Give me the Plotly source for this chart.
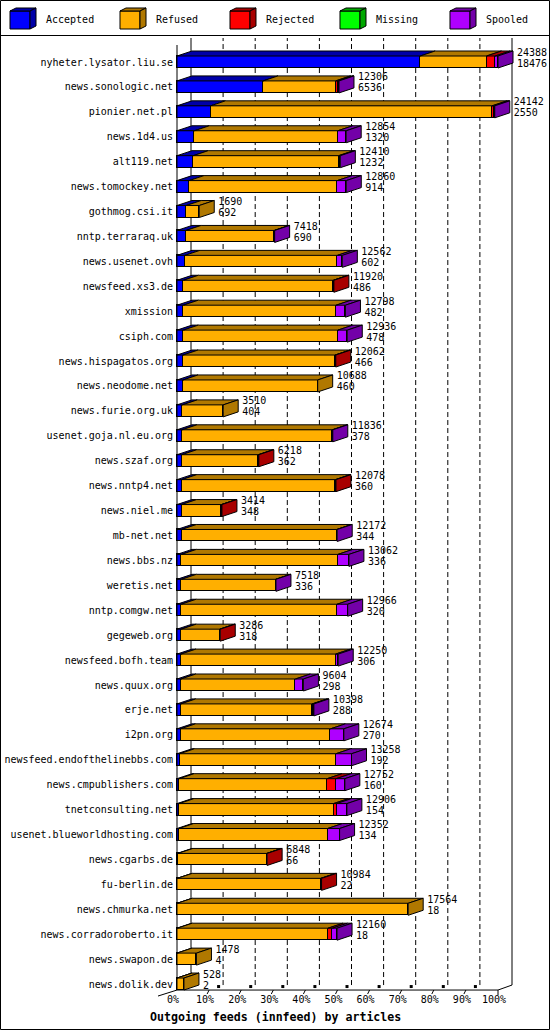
import plotly.graph_objects as go

# ---------------- data ----------------
hosts = [
    "nyheter.lysator.liu.se", "news.sonologic.net", "pionier.net.pl", "news.1d4.us",
    "alt119.net", "news.tomockey.net", "gothmog.csi.it", "nntp.terraraq.uk",
    "news.usenet.ovh", "newsfeed.xs3.de", "xmission", "csiph.com",
    "news.hispagatos.org", "news.neodome.net", "news.furie.org.uk", "usenet.goja.nl.eu.org",
    "news.szaf.org", "news.nntp4.net", "news.niel.me", "mb-net.net",
    "news.bbs.nz", "weretis.net", "nntp.comgw.net", "gegeweb.org",
    "newsfeed.bofh.team", "news.quux.org", "erje.net", "i2pn.org",
    "newsfeed.endofthelinebbs.com", "news.cmpublishers.com", "tnetconsulting.net",
    "usenet.blueworldhosting.com", "news.cgarbs.de", "fu-berlin.de", "news.chmurka.net",
    "news.corradoroberto.it", "news.swapon.de", "news.dolik.dev",
]
totals = [24388, 12306, 24142, 12854, 12410, 12860, 1690, 7418, 12562, 11920,
          12798, 12936, 12062, 10688, 3510, 11836, 6218, 12078, 3414, 12172,
          13062, 7518, 12966, 3286, 12250, 9604, 10398, 12674, 13258, 12752,
          12906, 12352, 6848, 10984, 17564, 12160, 1478, 528]
accepted = [18476, 6536, 2550, 1320, 1232, 914, 692, 690, 602, 486,
            482, 478, 466, 460, 404, 378, 362, 360, 348, 344,
            336, 336, 320, 318, 306, 298, 288, 270, 192, 160,
            154, 134, 66, 22, 18, 18, 4, 2]
refused = [5040, 5520, 21389, 10900, 11050, 11262, 998, 6698, 11580, 11384,
           11606, 11748, 11546, 10228, 3106, 11418, 5806, 11678, 3026, 11798,
           11890, 7152, 11840, 2928, 11744, 8698, 9980, 11391, 11876, 11248,
           11739, 11306, 6742, 10892, 17546, 11457, 1474, 526]
rejected = [660, 200, 120, 0, 0, 0, 0, 0, 0, 50,
            0, 0, 50, 0, 0, 0, 50, 40, 40, 0,
            0, 0, 0, 40, 0, 0, 90, 0, 0, 684,
            228, 0, 40, 70, 0, 330, 0, 0]
missing = [0, 0, 0, 0, 0, 0, 0, 0, 0, 0,
           0, 0, 0, 0, 0, 0, 0, 0, 0, 0,
           0, 0, 0, 0, 0, 0, 0, 0, 0, 0,
           0, 0, 0, 0, 0, 0, 0, 0]
spooled = [212, 50, 83, 634, 128, 684, 0, 30, 380, 0,
           710, 710, 0, 0, 0, 40, 0, 0, 0, 30,
           836, 30, 806, 0, 200, 608, 40, 1013, 1190, 660,
           785, 912, 0, 0, 0, 355, 0, 0]
series_names = ["Accepted", "Refused", "Rejected", "Missing", "Spooled"]
pct_ticks = [0, 10, 20, 30, 40, 50, 60, 70, 80, 90, 100]
pct_labels = ["0%", "10%", "20%", "30%", "40%", "50%", "60%", "70%", "80%", "90%", "100%"]
x_title = "Outgoing feeds (innfeed) by articles"

# ---------------- style ----------------
front_colors = ["#0000FF", "#FFAF00", "#FF0000", "#00FF00", "#AF00FF"]
dark_colors = ["#0000A8", "#B07800", "#A80000", "#00A800", "#7300A8"]
FONT = "DejaVu Sans Mono"
W, H = 550, 1030
L, R, T, B = 176, 0, 38, 39
PX_FULL = 321          # pixels for the largest total (100 %)
ROW_PX = 24.92         # pixels between rows
FIRST_ROW_PX = 24      # from plot top to first row centre
BAR_PX = 12
DEPTH_X_PX, DEPTH_Y_PX = 15, 5
GRID_DX_PX = 14

series = [accepted, refused, rejected, missing, spooled]
n = len(hosts)
vmax = max(totals)
K = vmax / PX_FULL                 # articles per pixel
plot_w = W - L - R
plot_h = H - T - B
x_range = [-1 * K, (plot_w - 1) * K]
y_top = -FIRST_ROW_PX / ROW_PX
y_bottom = y_top + plot_h / ROW_PX
BARW = BAR_PX / ROW_PX
DX = DEPTH_X_PX * K
DY = DEPTH_Y_PX / ROW_PX
GDX = GRID_DX_PX * K
rows = list(range(n))
y_front = (n - 1) + BARW / 2
y_floor = y_front - DY


def px2paper(px, py):
    return (px - L) / plot_w, (H - B - py) / plot_h


def d2paper(x, y):
    return (x - x_range[0]) / (x_range[1] - x_range[0]), (y_bottom - y) / (y_bottom - y_top)


fig = go.Figure()

# front faces
for name, vals, fc in zip(series_names, series, front_colors):
    fig.add_trace(go.Bar(
        y=rows, x=vals, orientation="h", width=BARW, name=name,
        marker=dict(color=fc, line=dict(color="black", width=1)),
        hoverinfo="skip", showlegend=False,
    ))

# top faces and side faces
cum = [0] * n
last = [None] * n
top_xy = [([], []) for _ in series]
for s, vals in enumerate(series):
    for i in rows:
        v = vals[i]
        if v <= 0:
            continue
        x0 = cum[i]
        x1 = x0 + v
        yt = i - BARW / 2
        top_xy[s][0].extend([x0, x1, x1 + DX, x0 + DX, x0, None])
        top_xy[s][1].extend([yt, yt, yt - DY, yt - DY, yt, None])
        cum[i] = x1
        last[i] = s

side_xy = [([], []) for _ in series]
for i in rows:
    s = last[i]
    if s is None:
        continue
    xe = cum[i]
    yt = i - BARW / 2
    yb = i + BARW / 2
    side_xy[s][0].extend([xe, xe + DX, xe + DX, xe, xe, None])
    side_xy[s][1].extend([yt, yt - DY, yb - DY, yb, yt, None])

for s in range(len(series)):
    for xs, ys in (top_xy[s], side_xy[s]):
        if not xs:
            continue
        fig.add_trace(go.Scatter(
            x=xs, y=ys, mode="lines", fill="toself", fillcolor=dark_colors[s],
            line=dict(color="black", width=1), hoverinfo="skip", showlegend=False,
        ))

# value labels
lab_x = [t + (DEPTH_X_PX + 4) * K for t in totals]
fig.add_trace(go.Scatter(
    x=lab_x, y=[i - 9 / ROW_PX for i in rows], text=[str(t) for t in totals],
    mode="text", textposition="middle right", cliponaxis=False,
    textfont=dict(family=FONT, size=10, color="black"), hoverinfo="skip", showlegend=False,
))
fig.add_trace(go.Scatter(
    x=lab_x, y=[i + 2 / ROW_PX for i in rows], text=[str(a) for a in accepted],
    mode="text", textposition="middle right", cliponaxis=False,
    textfont=dict(family=FONT, size=10, color="black"), hoverinfo="skip", showlegend=False,
))

shapes = []
# back grid lines
tick_vals = [vmax * p / 100 for p in pct_ticks]
for p, tv in zip(pct_ticks, tick_vals):
    solid = p in (0, 100)
    shapes.append(dict(
        type="line", xref="x", yref="y", layer="below",
        x0=tv + GDX, x1=tv + GDX, y0=y_floor, y1=y_top,
        line=dict(color="black", width=1, dash="solid" if solid else "5px,3px"),
    ))
# front left axis
shapes.append(dict(type="line", xref="x", yref="y", layer="above",
                   x0=0, x1=0, y0=y_top + 7 / ROW_PX, y1=y_front,
                   line=dict(color="black", width=1)))
# floor front edge and right diagonal
fx0, fy0 = d2paper(0, y_front)
fx1, _ = d2paper(vmax, y_front)
bx1, by1 = d2paper(vmax + GDX, y_floor)
shapes.append(dict(type="line", xref="paper", yref="paper", x0=fx0, y0=fy0, x1=fx1, y1=fy0,
                   line=dict(color="black", width=1)))
shapes.append(dict(type="line", xref="paper", yref="paper", x0=fx1, y0=fy0, x1=bx1, y1=by1,
                   line=dict(color="black", width=1)))
# left floor diagonal
lx, ly = d2paper(-19 * K, y_front + 6 / ROW_PX)
shapes.append(dict(type="line", xref="paper", yref="paper", x0=lx, y0=ly, x1=fx0, y1=fy0,
                   line=dict(color="black", width=1)))
# 3d ticks
for p, tv in zip(pct_ticks, tick_vals):
    if p == 0:
        continue
    tx, ty = d2paper(tv, y_front)
    if p == 100:
        _, ty2 = d2paper(tv, y_front + 5 / ROW_PX)
        shapes.append(dict(type="line", xref="paper", yref="paper", x0=tx, y0=ty, x1=tx, y1=ty2,
                           line=dict(color="black", width=1)))
        continue
    ax, ay = d2paper(tv - 2 * K, y_front + 4 / ROW_PX)
    shapes.append(dict(type="line", xref="paper", yref="paper", x0=ax, y0=ay, x1=tx, y1=ty,
                       line=dict(color="black", width=1)))
    qx0, qy0 = d2paper(tv + 8 * K, y_front - 2 / ROW_PX)
    qx1, qy1 = d2paper(tv + 11 * K, y_front - 5 / ROW_PX)
    shapes.append(dict(type="rect", xref="paper", yref="paper", x0=qx0, y0=qy0, x1=qx1, y1=qy1,
                       fillcolor="black", line=dict(width=0)))

# legend (3d cubes)
annotations = []
for k, (name, fc, dc) in enumerate(zip(series_names, front_colors, dark_colors)):
    x0 = 10 + 110 * k
    def P(px, py):
        a, b = px2paper(px, py)
        return f"{a:.5f},{b:.5f}"
    front = f"M{P(x0, 11)} L{P(x0 + 20, 11)} L{P(x0 + 20, 29)} L{P(x0, 29)} Z"
    top = f"M{P(x0, 11)} L{P(x0 + 20, 11)} L{P(x0 + 26, 8)} L{P(x0 + 6, 8)} Z"
    side = f"M{P(x0 + 20, 11)} L{P(x0 + 26, 8)} L{P(x0 + 26, 26)} L{P(x0 + 20, 29)} Z"
    for path, col in ((front, fc), (top, dc), (side, dc)):
        shapes.append(dict(type="path", xref="paper", yref="paper", path=path,
                           fillcolor=col, line=dict(color="black", width=1)))
    ax_, ay_ = px2paper(x0 + 34, 20)
    annotations.append(dict(text=name, xref="paper", yref="paper", x=ax_, y=ay_,
                            xanchor="left", yanchor="middle", showarrow=False,
                            font=dict(family=FONT, size=10, color="black")))

# legend separator and outer frame
sx0, sy = px2paper(0, 35.5)
sx1, _ = px2paper(550, 35.5)
shapes.append(dict(type="line", xref="paper", yref="paper", x0=sx0, y0=sy, x1=sx1, y1=sy,
                   line=dict(color="black", width=1)))
ox0, oy0 = px2paper(0.5, 0.5)
ox1, oy1 = px2paper(549.5, 1029.5)
shapes.append(dict(type="rect", xref="paper", yref="paper", x0=ox0, y0=oy0, x1=ox1, y1=oy1,
                   line=dict(color="black", width=1)))

# axis title
tx_, ty_ = px2paper(275, 1017)
annotations.append(dict(text=f"<b>{x_title}</b>", xref="paper", yref="paper", x=tx_, y=ty_,
                        xanchor="center", yanchor="middle", showarrow=False,
                        font=dict(family=FONT, size=11.6, color="black")))

fig.update_layout(
    width=W, height=H, margin=dict(l=L, r=R, t=T, b=B, pad=0),
    barmode="stack", bargap=0, showlegend=False,
    paper_bgcolor="white", plot_bgcolor="white",
    font=dict(family=FONT, size=10, color="black"),
    shapes=shapes, annotations=annotations, hovermode=False,
    xaxis=dict(range=x_range, tickvals=tick_vals, ticktext=pct_labels,
               showgrid=False, zeroline=False, showline=False, ticks="",
               ticklabelshift=-4, ticklabelstandoff=1,
               tickfont=dict(family=FONT, size=10, color="black"), fixedrange=True),
    yaxis=dict(range=[y_bottom, y_top], tickvals=rows, ticktext=hosts,
               showgrid=False, zeroline=False, showline=False, ticks="",
               ticklabelstandoff=2,
               tickfont=dict(family=FONT, size=10, color="black"), fixedrange=True),
)

fig.write_html(
    "out.html",
    config={"displayModeBar": False},
    post_script="document.body.style.margin='0px';document.body.style.overflow='hidden';",
)
